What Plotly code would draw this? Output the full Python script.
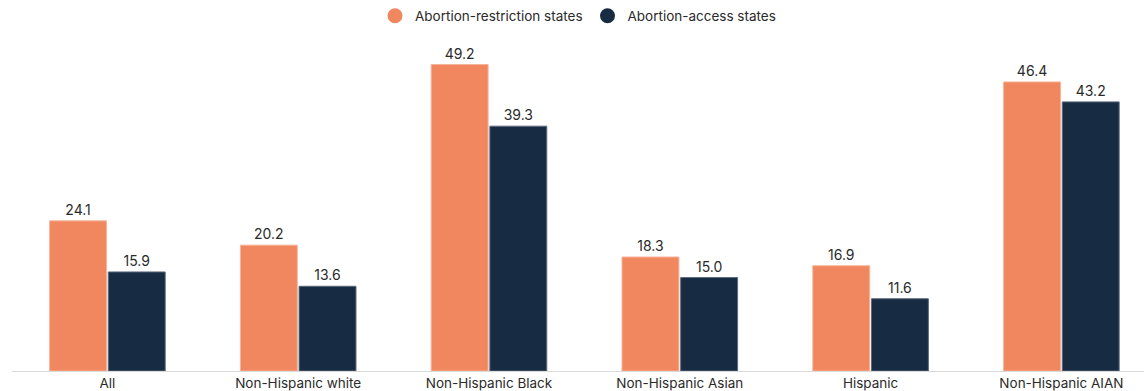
import plotly.graph_objects as go

categories = ["All", "Non-Hispanic white", "Non-Hispanic Black", "Non-Hispanic Asian", "Hispanic", "Non-Hispanic AIAN"]
restriction = [24.1, 20.2, 49.2, 18.3, 16.9, 46.4]
access = [15.9, 13.6, 39.3, 15.0, 11.6, 43.2]
series_names = ["Abortion-restriction states", "Abortion-access states"]
colors = ["#F0875F", "#172B43"]
edge_colors = ["#F7B398", "#5C6B7D"]

FONT = "Inter, Roboto, Arial, sans-serif"
fig = go.Figure()
for name, vals, col, ec in zip(series_names, [restriction, access], colors, edge_colors):
    fig.add_trace(go.Bar(
        x=categories, y=vals, name=name, showlegend=False,
        marker=dict(color=col, line=dict(color=ec, width=1)),
        text=[f"{v:.1f}" for v in vals], textposition="outside",
        textfont=dict(size=14, color="#2A2A2A", family=FONT),
        cliponaxis=False,
    ))
for name, col in zip(series_names, colors):
    fig.add_trace(go.Scatter(
        x=[None], y=[None], mode="markers", name=name,
        marker=dict(color=col, size=15, symbol="circle"),
    ))

fig.update_layout(
    width=1144, height=391,
    margin=dict(l=12, r=0, t=28, b=20),
    paper_bgcolor="white", plot_bgcolor="white",
    barmode="group", bargap=0.385, bargroupgap=0.03,
    font=dict(family=FONT, size=13, color="#2A2A2A"),
    legend=dict(orientation="h", x=0.5, xanchor="center", y=0.99, yanchor="bottom",
                font=dict(size=13.5, color="#2A2A2A"), itemwidth=30,
                itemclick=False),
    xaxis=dict(type="category", range=[-0.5, 5.433], showline=True, linecolor="#D9D9D9",
               linewidth=1, ticks="", ticklen=0, showgrid=False,
               tickfont=dict(size=13.5, color="#2A2A2A")),
    yaxis=dict(range=[0, 55.06], visible=False, showgrid=False),
)
fig.write_html("out.html")
